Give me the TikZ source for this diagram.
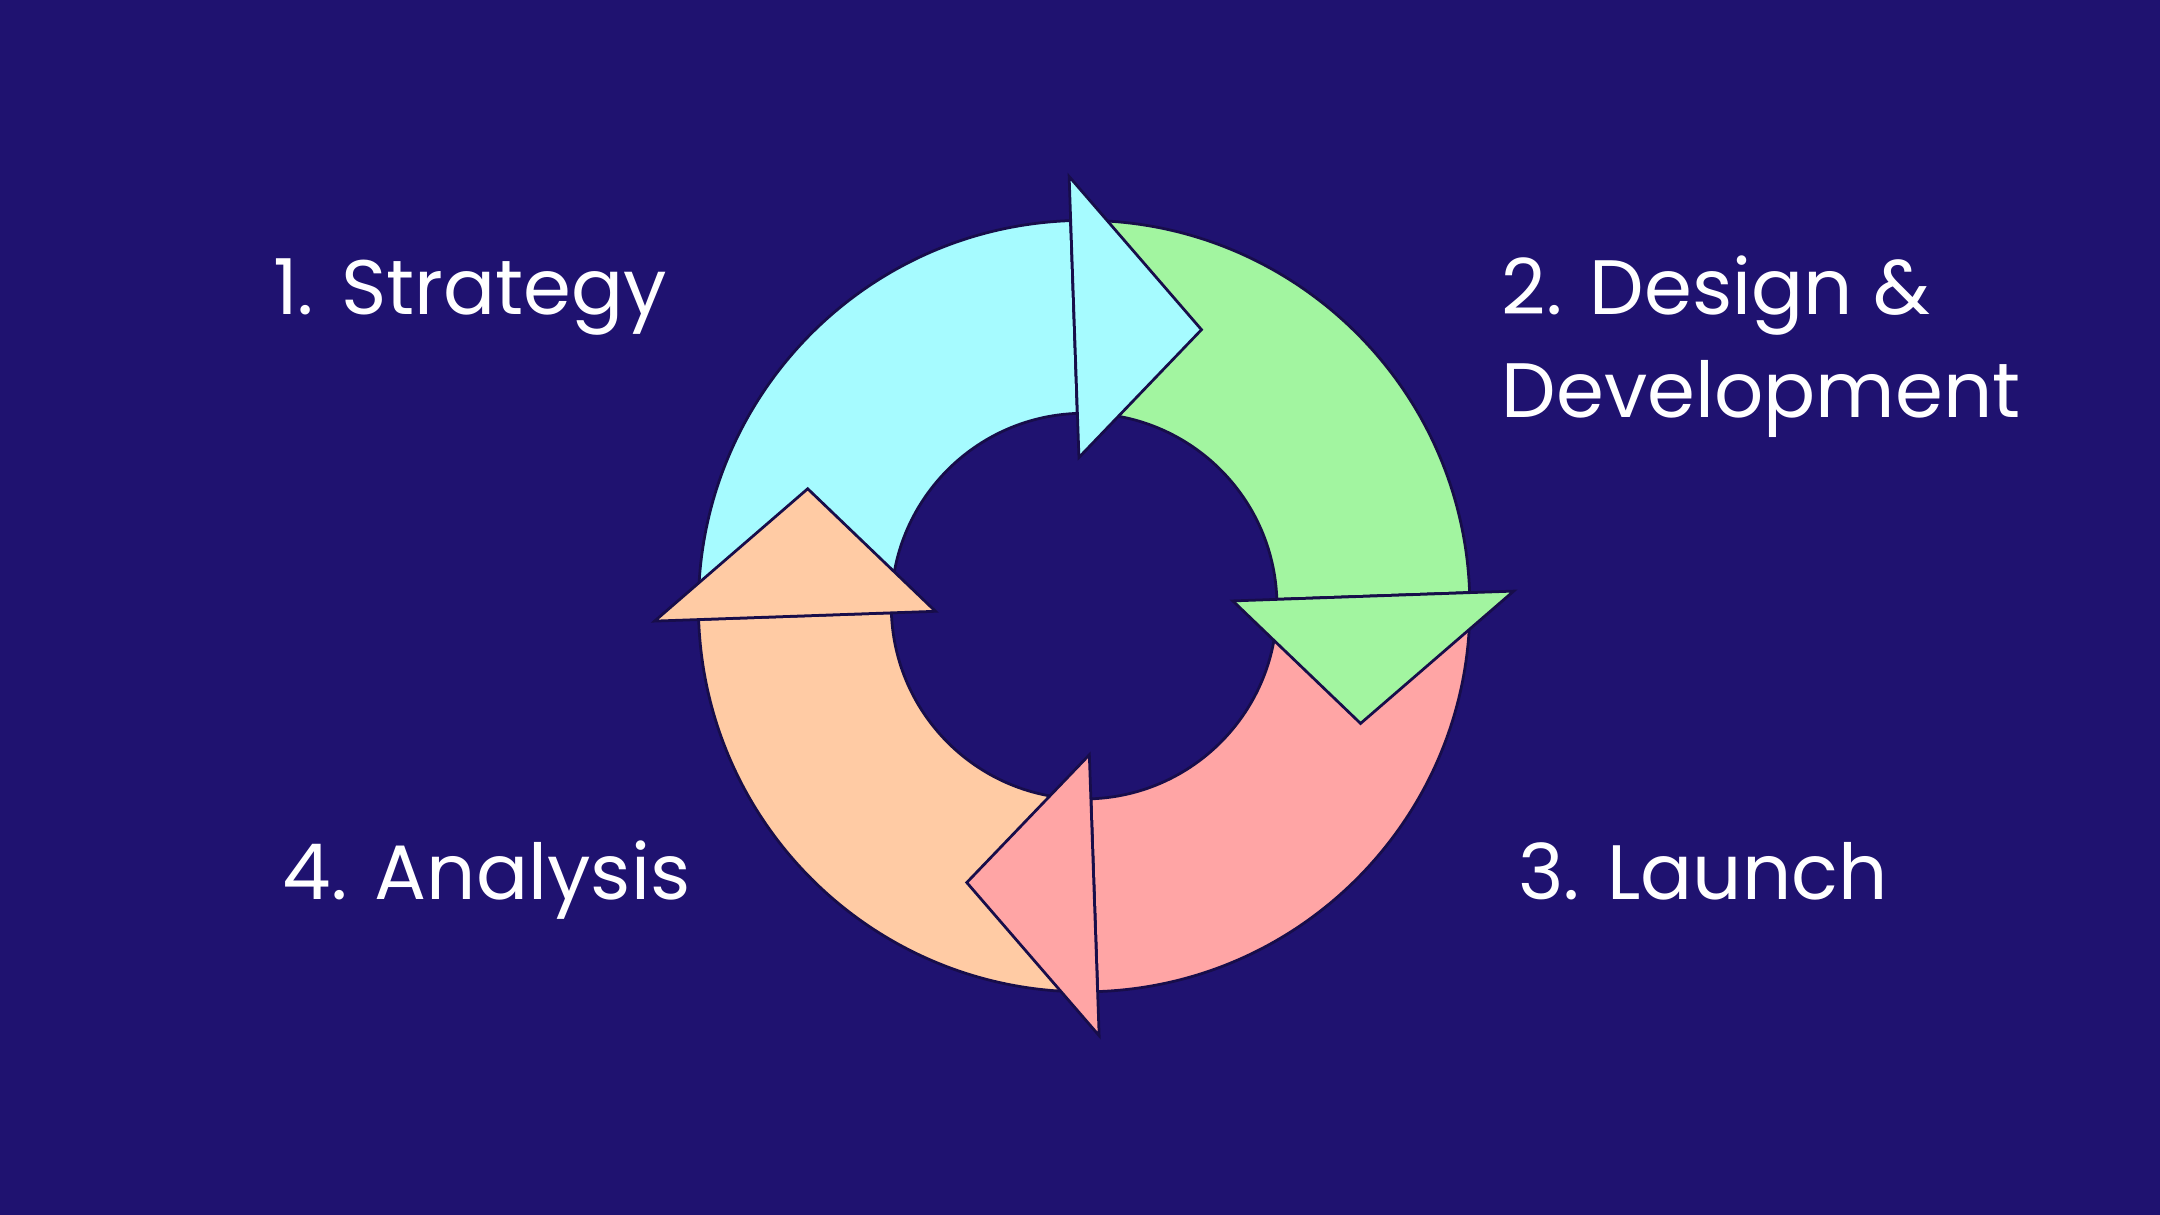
\documentclass[tikz,border=0pt]{standalone}
\usepackage{fontspec}
\setmainfont{Poppins}
\definecolor{bg}{HTML}{1F1270}
\definecolor{edge}{HTML}{170D4A}
\definecolor{cy}{HTML}{A6FBFF}
\definecolor{gr}{HTML}{A2F5A0}
\definecolor{pk}{HTML}{FFA5A5}
\definecolor{og}{HTML}{FFCBA4}
\tikzset{part/.style={draw=edge,line width=2pt,line join=miter},
lbl/.style={text=white,anchor=base west,inner sep=0pt,font=\fontsize{56}{60}\selectfont}}
\newcommand{\mybody}[3]{\fill[part,fill=#1] (#2:280) arc[start angle=#2,end angle=#3,radius=280] -- (#3:140) arc[start angle=#3,end angle=#2,radius=140] -- cycle;}
\newcommand{\myhead}[2]{\fill[part,fill=#1] (#2:108) -- (#2:312) -- ({#2-25}:218) -- cycle;}
\begin{document}
\begin{tikzpicture}[x=1pt,y=1pt]
\fill[bg] (0,0) rectangle (1568,882);
\useasboundingbox (0,0) rectangle (1568,882);
\begin{scope}[shift={(787,442)}]
\mybody{cy}{182}{92}
\mybody{gr}{92}{2}
\mybody{pk}{2}{-88}
\mybody{og}{-88}{-178}
\myhead{cy}{92}
\myhead{gr}{2}
\myhead{pk}{-88}
\myhead{og}{-178}
\end{scope}
\node[lbl] (s) at (198,654) {1. Strategy};
\node[lbl] (d1) at (1090,654) {2. Design \&};
\node[lbl] (d2) at (1090,579) {Development};
\node[lbl] (l) at (1102,229) {3. Launch};
\node[lbl] (a) at (205,229) {4. Analysis};
\end{tikzpicture}
\end{document}
